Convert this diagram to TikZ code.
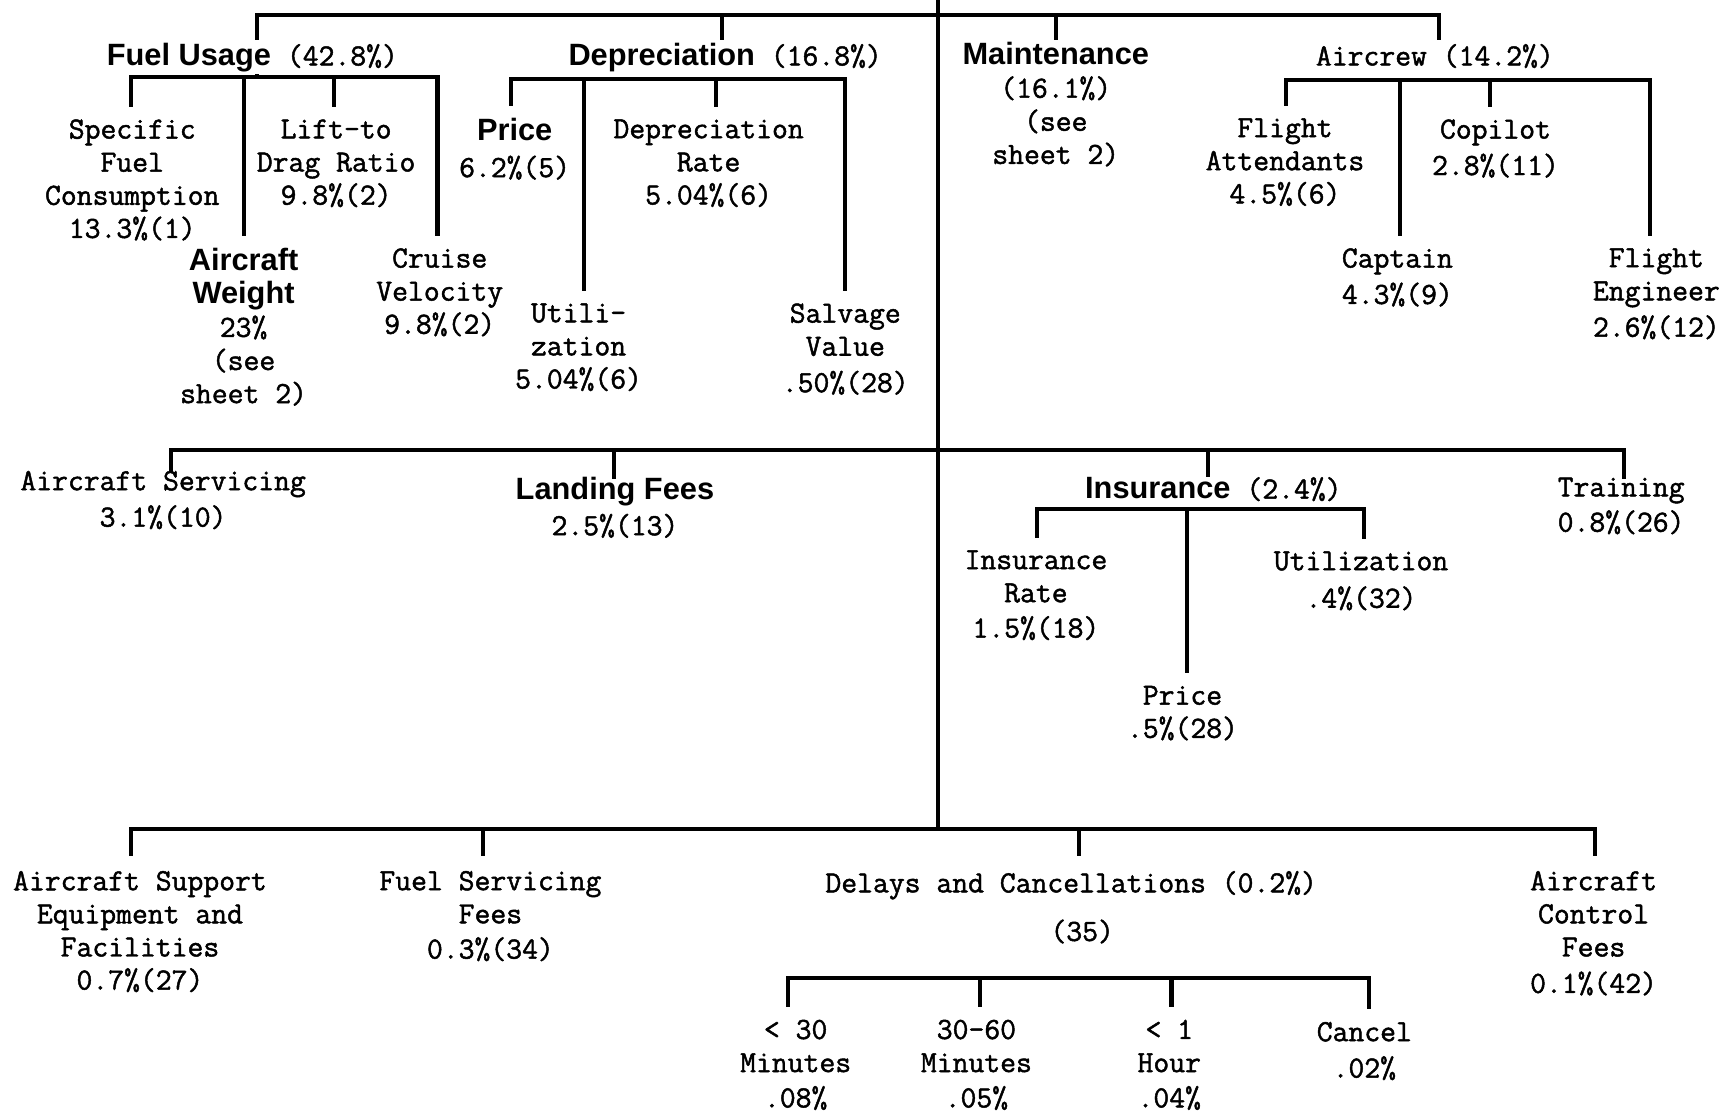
\documentclass[tikz,border=0pt]{standalone}
\usepackage{fontspec}
\newfontfamily\monofont{Latin Modern Mono}[FakeBold=1.5]
\newfontfamily\headfont{Liberation Sans}
\newcommand{\bh}[1]{{\headfont\bfseries #1}}
\begin{document}
\begin{tikzpicture}[x=0.02cm, y=-0.02cm,
        txt/.style={font=\monofont\fontsize{15.9}{17.1}\selectfont, align=center,
            inner sep=0pt, anchor=north, yshift=0.2cm, execute at begin node=\strut},
        link/.style={line width=2.1pt, line cap=rect},
        drop/.style={link, shorten >=0.26cm},
        longdrop/.style={link, shorten >=0.3cm}]
        \useasboundingbox (0,0) rectangle (1568,1009);
        \begin{scope}[every node/.style=txt]
        % first level
        \node (fuel) at (229,48) {\bh{Fuel Usage}~(42.8\%)};
        \node (depr) at (658,48) {\bh{Depreciation}~(16.8\%)};
        \node (maint) at (958,48) {\bh{Maintenance}\\(16.1\%)\\(see\\sheet 2)};
        \node (crew) at (1302,48) {Aircrew (14.2\%)};
        \node (spec) at (120,118) {Specific\\Fuel\\Consumption\\13.3\%(1)};
        \node (weight) at (221,235) {\bh{Aircraft}\\\bh{Weight}\\23\%\\(see\\sheet 2)};
        \node (lift) at (305,118) {Lift-to\\Drag Ratio\\9.8\%(2)};
        \node (cruise) at (399,235) {Cruise\\Velocity\\9.8\%(2)};
        \node (price) at (467,117) {\bh{Price}\\[0.06cm]6.2\%(5)};
        \node (util) at (525,285) {Utili-\\zation\\5.04\%(6)};
        \node (rate) at (643,118) {Depreciation\\Rate\\5.04\%(6)};
        \node (salv) at (767,285) {Salvage\\Value\\[0.06cm].50\%(28)};
        \node (att) at (1166,117) {Flight\\Attendants\\4.5\%(6)};
        \node (capt) at (1268,235) {Captain\\[0.06cm]4.3\%(9)};
        \node (copil) at (1357,118) {Copilot\\[0.06cm]2.8\%(11)};
        \node (eng) at (1503,235) {Flight\\Engineer\\[0.06cm]2.6\%(12)};
        % second level
        \node (serv) at (148,437) {Aircraft Servicing\\[0.06cm]3.1\%(10)};
        \node (land) at (558,443) {\bh{Landing Fees}\\[0.04cm]2.5\%(13)};
        \node (ins) at (1101,441) {\bh{Insurance}~(2.4\%)};
        \node (train) at (1471,443) {Training\\[0.04cm]0.8\%(26)};
        \node (irate) at (940,509) {Insurance\\Rate\\[0.04cm]1.5\%(18)};
        \node (iprice) at (1073,632) {Price\\.5\%(28)};
        \node (iutil) at (1235,510) {Utilization\\[0.08cm].4\%(32)};
        % third level
        \node (supp) at (127,800) {Aircraft Support\\Equipment and\\Facilities\\0.7\%(27)};
        \node (fsrv) at (445,800) {Fuel Servicing\\Fees\\[0.04cm]0.3\%(34)};
        \node (delay) at (972,800) {Delays and Cancellations (0.2\%)\\[0.28cm]\hspace*{0.4cm}(35)};
        \node (ctrl) at (1446,800) {Aircraft\\Control\\Fees\\[0.06cm]0.1\%(42)};
        \node (d30) at (722,935) {<~30\\Minutes\\[0.04cm].08\%};
        \node (d60) at (886,935) {30-60\\Minutes\\[0.04cm].05\%};
        \node (d1h) at (1061,935) {<~1\\Hour\\[0.04cm].04\%};
        \node (dcan) at (1238,937) {Cancel\\[0.06cm].02\%};
        \end{scope}
        % trunk and bars
        \coordinate (trunk) at (851,0);
        \coordinate (foot) at (851,752);
        \draw[link] (trunk) -- (foot);
        \foreach \n/\x in {fuel/233, depr/655, maint/958, crew/1306}
            \coordinate (t-\n) at (\x,14);
        \draw[link] (t-fuel) -- (t-crew);
        \foreach \n in {fuel, depr, maint, crew}
            \draw[link, shorten >=0.08cm] (t-\n) -- (t-\n |- \n.north);
        \foreach \n/\x in {serv/155, land/557, ins/1096, train/1474}
            \coordinate (m-\n) at (\x,408);
        \draw[link] (m-serv) -- (m-train);
        \foreach \n in {serv, land, ins, train}
            \draw[link] (m-\n) -- (m-\n |- \n.north);
        \foreach \n/\x in {supp/119, fsrv/438, delay/979, ctrl/1447}
            \coordinate (b-\n) at (\x,752);
        \draw[link] (b-supp) -- (b-ctrl);
        \foreach \n in {supp, fsrv, delay, ctrl}
            \draw[longdrop] (b-\n) -- (b-\n |- \n.north);
        % sub bars
        \coordinate (fu-j) at (233,70);
        \draw[link] (fuel.south -| fu-j) -- (fu-j);
        \foreach \n/\x/\y in {spec/119/70, weight/221/70, lift/303/70, cruise/397/70,
                price/464/72, util/530/72, rate/650/72, salv/767/72,
                att/1167/73, capt/1270/73, copil/1352/73, eng/1497/73,
                irate/941/462, iprice/1077/462, iutil/1238/462,
                d30/715/887, d60/889/887, d1h/1063/887, dcan/1242/887}
            \coordinate (s-\n) at (\x,\y);
        \draw[link] (s-spec) -- (s-cruise);
        \draw[link] (s-price) -- (s-salv);
        \draw[link] (s-att) -- (s-eng);
        \draw[link] (s-irate) -- (s-iutil);
        \draw[link] (s-d30) -- (s-dcan);
        \foreach \n in {spec, weight, lift, cruise, price, util, rate, salv,
                att, capt, copil, eng, irate, iprice, iutil, d30, d60, d1h, dcan}
            \draw[drop] (s-\n) -- (s-\n |- \n.north);
\end{tikzpicture}
\end{document}
